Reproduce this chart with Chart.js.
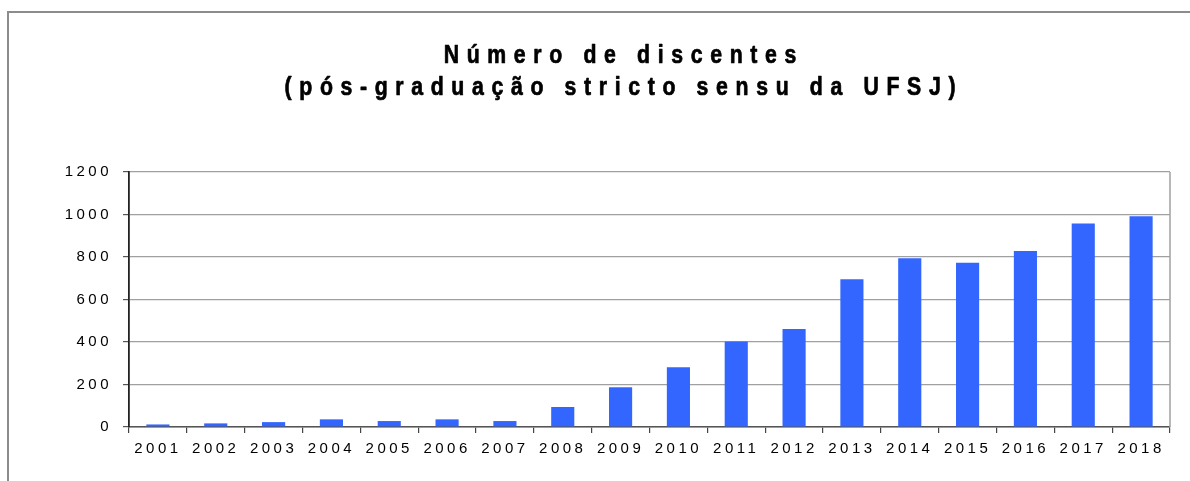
<!DOCTYPE html>
<html>
<head>
<meta charset="utf-8">
<script src="https://cdn.jsdelivr.net/npm/chart.js@4.4.1/dist/chart.umd.min.js"></script>
<style>
  html, body { margin: 0; padding: 0; background: #fff; overflow: hidden; }
  #frame { position: absolute; left: 7px; top: 11px; width: 1300px; height: 600px;
           border-left: 2px solid #8c8c8c; border-top: 2px solid #8c8c8c; }
  #wrap { position: absolute; left: 0; top: 0; width: 1190px; height: 481px; }
</style>
</head>
<body>
<div id="frame"></div>
<div id="wrap"><canvas id="c" width="1190" height="481"></canvas></div>
<script>
const titleLines = ['Número de discentes', '(pós-graduação stricto sensu da UFSJ)'];
const years = ['2001','2002','2003','2004','2005','2006','2007','2008','2009','2010','2011','2012','2013','2014','2015','2016','2017','2018'];
const discentes = [12, 17, 23, 36, 28, 36, 28, 94, 187, 281, 402, 461, 695, 794, 773, 828, 958, 992];
const yTicks = [0, 200, 400, 600, 800, 1000, 1200];

const TICK_SPACING = '3.5px';
const TITLE_SPACING = 9;
const TITLE_SQUEEZE = 0.85;

const spacingPlugin = {
  id: 'spacing',
  beforeUpdate(chart) { chart.ctx.letterSpacing = TICK_SPACING; },
  beforeDraw(chart) { chart.ctx.letterSpacing = TICK_SPACING; },
  afterDraw(chart) {
    const ctx = chart.ctx;
    const a = chart.chartArea;
    ctx.save();
    ctx.letterSpacing = '0px';
    ctx.strokeStyle = '#a0a0a0';
    ctx.lineWidth = 1.5;
    ctx.beginPath();
    ctx.moveTo(a.right, a.top);
    ctx.lineTo(a.right, a.bottom);
    ctx.stroke();
    ctx.restore();

    ctx.save();
    ctx.letterSpacing = TITLE_SPACING + 'px';
    ctx.fillStyle = '#000';
    ctx.strokeStyle = '#000';
    ctx.lineWidth = 0.7;
    ctx.lineJoin = 'round';
    ctx.font = "bold 25px 'Liberation Sans', Arial, sans-serif";
    ctx.textAlign = 'center';
    ctx.textBaseline = 'alphabetic';
    const cx = 620 + TITLE_SPACING * TITLE_SQUEEZE / 2;
    ctx.translate(cx, 0);
    ctx.scale(TITLE_SQUEEZE, 1);
    ctx.fillText(titleLines[0], 0, 63);
    ctx.strokeText(titleLines[0], 0, 63);
    ctx.fillText(titleLines[1], 0, 95);
    ctx.strokeText(titleLines[1], 0, 95);
    ctx.restore();
  }
};

new Chart(document.getElementById('c'), {
  type: 'bar',
  data: {
    labels: years,
    datasets: [{
      data: discentes,
      backgroundColor: '#3366ff',
      borderWidth: 0,
      barPercentage: 0.8,
      categoryPercentage: 0.5
    }]
  },
  options: {
    responsive: false,
    animation: false,
    devicePixelRatio: 1,
    layout: { padding: { left: 0, right: 20, top: 172, bottom: 0 } },
    plugins: { legend: { display: false }, title: { display: false }, tooltip: { enabled: false } },
    scales: {
      x: {
        afterFit(s) { s.height = 54; },
        grid: { display: true, drawOnChartArea: false, drawTicks: true, tickLength: 6, color: '#444', offset: true, lineWidth: 1.2 },
        border: { display: true, color: '#555', width: 1.5 },
        ticks: { color: '#000', font: { family: "'Liberation Sans', Arial, sans-serif", size: 15 }, padding: 7, maxRotation: 0, autoSkip: false }
      },
      y: {
        min: 0, max: 1200,
        afterFit(s) { s.width = 129; },
        afterBuildTicks(s) { s.ticks = yTicks.map(v => ({ value: v })); },
        grid: { color: '#a0a0a0', lineWidth: 1.2, tickLength: 6, tickColor: '#555' },
        border: { display: true, color: '#222', width: 1.8 },
        ticks: { color: '#000', font: { family: "'Liberation Sans', Arial, sans-serif", size: 15 }, padding: 11,
                 callback: (v) => String(v) }
      }
    }
  },
  plugins: [spacingPlugin]
});
</script>
</body>
</html>
